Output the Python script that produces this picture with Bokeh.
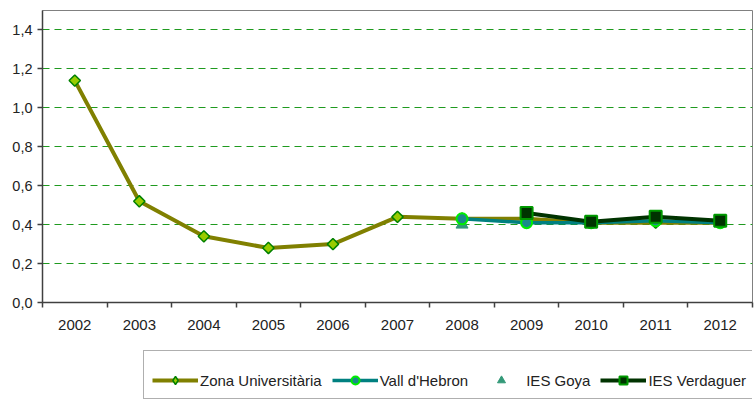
import math
from bokeh.plotting import figure
from bokeh.layouts import column
from bokeh.models import (FixedTicker, CustomJSTickFormatter, Legend, LegendItem,
                          Range1d, ColumnDataSource)
from bokeh.embed import file_html
from bokeh.resources import INLINE

years = [2002, 2003, 2004, 2005, 2006, 2007, 2008, 2009, 2010, 2011, 2012]
zona = [1.14, 0.52, 0.34, 0.28, 0.30, 0.44, 0.43, 0.43, 0.41, 0.41, 0.41]
vall_years = [2008, 2009, 2010, 2011, 2012]
vall = [0.43, 0.41, 0.41, 0.42, 0.41]
goya_years = [2008]
goya = [0.40]
verd_years = [2009, 2010, 2011, 2012]
verd = [0.46, 0.415, 0.44, 0.42]
y_ticks = [0.0, 0.2, 0.4, 0.6, 0.8, 1.0, 1.2, 1.4]
labels = ["Zona Universitària", "Vall d'Hebron", "IES Goya", "IES Verdaguer"]

FONT = "Liberation Sans"

ZM_COL = dict(fill_color="#99cc00", line_color="#008000", line_width=1.5)
STY = {
    "zl": dict(line_color="#808000", line_width=4),
    "zm": dict(marker="square", angle=math.pi / 4, **ZM_COL),
    "zm_leg": dict(marker="diamond", **ZM_COL),
    "vl": dict(line_color="#008080", line_width=3.5),
    "vm": dict(marker="circle", fill_color="#1a8a8a", line_color="#00ee00", line_width=2),
    "gm": dict(marker="triangle", fill_color="#339978", line_color="#339978", line_width=1),
    "dl": dict(line_color="#003300", line_width=4),
    "dm": dict(marker="square", fill_color="#003300", line_color="#009900", line_width=2),
}

p = figure(width=754, height=334, output_backend="svg", toolbar_location=None,
           x_range=Range1d(min(years) - 0.5, max(years) + 0.5),
           y_range=Range1d(0, 1.5),
           min_border_left=42, min_border_right=2, min_border_top=10,
           min_border_bottom=32)
p.background_fill_color = "white"
p.border_fill_color = "white"
p.outline_line_color = "#808080"
p.outline_line_width = 1

# axes
xa = p.xaxis[0]
xa.ticker = FixedTicker(ticks=years,
                        minor_ticks=[y - 0.5 for y in years] + [max(years) + 0.5])
xa.major_tick_out = 0
xa.major_tick_in = 0
xa.minor_tick_out = 5
xa.minor_tick_in = 0
xa.major_label_standoff = 12
xa.axis_line_color = "#404040"
xa.axis_line_width = 1.5
xa.minor_tick_line_color = "#404040"
xa.minor_tick_line_width = 1.5
xa.major_label_text_font = FONT
xa.major_label_text_font_size = "15px"
xa.major_label_text_color = "#222222"

ya = p.yaxis[0]
ya.ticker = FixedTicker(ticks=y_ticks, minor_ticks=[])
ya.formatter = CustomJSTickFormatter(code="return tick.toFixed(1).replace('.', ',')")
ya.major_tick_out = 5
ya.major_tick_in = 0
ya.minor_tick_out = 0
ya.minor_tick_in = 0
ya.major_label_standoff = 5
ya.axis_line_color = "#404040"
ya.axis_line_width = 1.5
ya.major_tick_line_color = "#404040"
ya.major_tick_line_width = 1.5
ya.major_label_text_font = FONT
ya.major_label_text_font_size = "14.5px"
ya.major_label_text_color = "#222222"

p.xgrid.visible = False
p.ygrid.ticker = FixedTicker(ticks=[t for t in y_ticks if t > 0])
p.ygrid.grid_line_color = "#1f9a1f"
p.ygrid.grid_line_dash = "7 5"
p.ygrid.grid_line_width = 1

# series
src_z = ColumnDataSource(dict(x=years, y=zona))
src_v = ColumnDataSource(dict(x=vall_years, y=vall))
src_g = ColumnDataSource(dict(x=goya_years, y=goya))
src_d = ColumnDataSource(dict(x=verd_years, y=verd))

p.line("x", "y", source=src_z, **STY["zl"])
p.scatter("x", "y", source=src_z, size=8, **STY["zm"])
p.line("x", "y", source=src_v, **STY["vl"])
p.scatter("x", "y", source=src_g, size=12, **STY["gm"])
p.scatter("x", "y", source=src_v, size=11, **STY["vm"])
p.line("x", "y", source=src_d, **STY["dl"])
p.scatter("x", "y", source=src_d, size=12, **STY["dm"])

# legend strip: a second figure whose view shows none of the data, holding only the legend
q = figure(width=754, height=70, output_backend="svg", toolbar_location=None,
           x_axis_type=None, y_axis_type=None,
           x_range=Range1d(0, 1), y_range=Range1d(0, 1),
           min_border_left=0, min_border_right=0, min_border_top=0,
           min_border_bottom=0)
q.outline_line_color = None
q.xgrid.visible = False
q.ygrid.visible = False
q.background_fill_color = "white"
q.border_fill_color = "white"

r_zl = q.line("x", "y", source=src_z, **STY["zl"])
r_zm = q.scatter("x", "y", source=src_z, **STY["zm_leg"])
r_vl = q.line("x", "y", source=src_v, **STY["vl"])
r_vm = q.scatter("x", "y", source=src_v, **STY["vm"])
r_gm = q.scatter("x", "y", source=src_g, **STY["gm"])
r_dl = q.line("x", "y", source=src_d, **STY["dl"])
r_dm = q.scatter("x", "y", source=src_d, **STY["dm"])

legend = Legend(items=[
    LegendItem(label=labels[0], renderers=[r_zl, r_zm]),
    LegendItem(label=labels[1], renderers=[r_vl, r_vm]),
    LegendItem(label=labels[2], renderers=[r_gm]),
    LegendItem(label=labels[3], renderers=[r_dl, r_dm]),
], orientation="horizontal", location=(101, 5), margin=0)
legend.padding = 8
legend.spacing = 10
legend.glyph_width = 46
legend.glyph_height = 20
legend.label_height = 20
legend.label_standoff = 2
legend.label_text_font = FONT
legend.label_text_font_size = "15px"
legend.label_text_color = "#222222"
legend.title = " "
legend.title_text_font_size = "4px"
legend.title_standoff = 6
legend.border_line_color = "#606060"
legend.border_line_width = 1.5
legend.background_fill_alpha = 0
q.add_layout(legend, "center")

layout = column(p, q, spacing=0)
open("out.html", "w").write(file_html(layout, INLINE))
